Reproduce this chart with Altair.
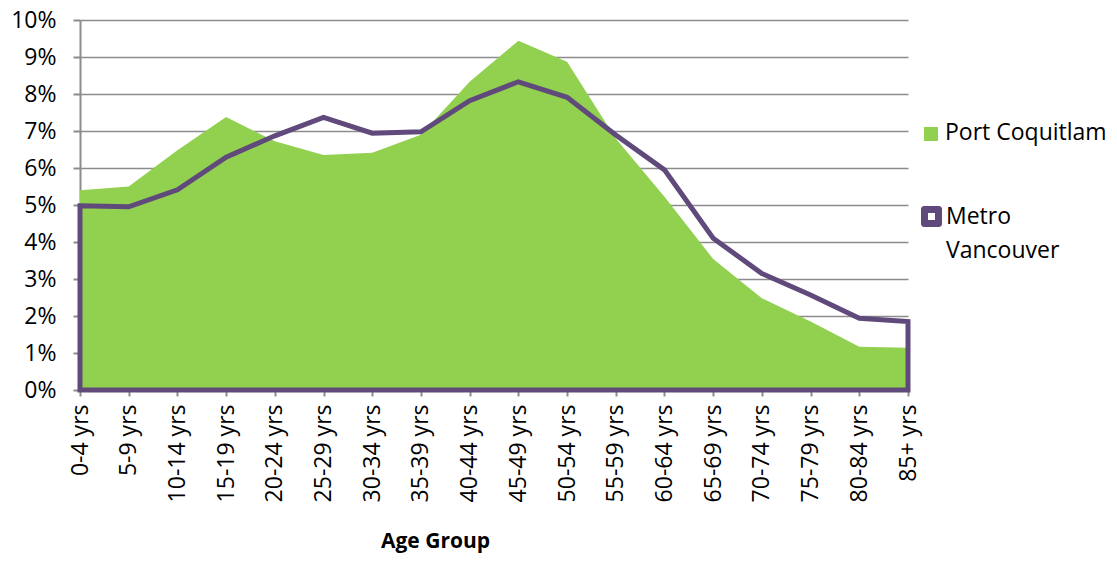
import altair as alt
import pandas as pd

categories = ["0-4 yrs", "5-9 yrs", "10-14 yrs", "15-19 yrs", "20-24 yrs", "25-29 yrs",
              "30-34 yrs", "35-39 yrs", "40-44 yrs", "45-49 yrs", "50-54 yrs", "55-59 yrs",
              "60-64 yrs", "65-69 yrs", "70-74 yrs", "75-79 yrs", "80-84 yrs", "85+ yrs"]
port_coquitlam = [5.40, 5.50, 6.48, 7.38, 6.72, 6.35, 6.41, 6.90, 8.33, 9.44, 8.87, 6.80,
                  5.22, 3.54, 2.48, 1.85, 1.17, 1.14]
metro_vancouver = [4.98, 4.95, 5.41, 6.29, 6.87, 7.37, 6.94, 6.98, 7.82, 8.33, 7.91, 6.89,
                   5.95, 4.10, 3.15, 2.57, 1.94, 1.85]
series_names = ["Port Coquitlam", "Metro Vancouver"]

GREEN = "#92D050"
PURPLE = "#604A7B"
GRAY = "#8C8C8C"
FONT = "Open Sans"
FS = 23

df_pc = pd.DataFrame({"age": categories, "share": [v / 100 for v in port_coquitlam]})
df_mv = pd.DataFrame({"age": categories, "share": [v / 100 for v in metro_vancouver]})

x_enc = alt.X(
    "age:N",
    sort=categories,
    scale=alt.Scale(type="point", padding=0),
    axis=alt.Axis(
        title="Age Group",
        labelAngle=270,
        labelFontSize=FS,
        labelFont=FONT,
        labelColor="black",
        labelPadding=8,
        tickSize=6,
        tickColor=GRAY,
        tickWidth=2,
        domainColor=GRAY,
        domainWidth=2,
        titleFont=FONT,
        titleFontSize=21,
        titleFontWeight="bold",
        titleColor="black",
        titleX=355,
        titleY=157,
        titleBaseline="alphabetic",
        titleAlign="center",
    ),
)
y_enc = alt.Y(
    "share:Q",
    scale=alt.Scale(domain=[0, 0.10], nice=False),
    axis=alt.Axis(
        title=None,
        format=".0%",
        values=[i / 100 for i in range(11)],
        labelFontSize=FS,
        labelFont=FONT,
        labelColor="black",
        labelPadding=17,
        tickSize=7,
        tickColor=GRAY,
        tickWidth=2,
        domainColor=GRAY,
        domainWidth=2,
        grid=True,
        gridColor=GRAY,
        gridWidth=1.7,
    ),
)

area_pc = alt.Chart(df_pc).mark_area(color=GREEN, opacity=1).encode(x=x_enc, y=y_enc)
area_mv = alt.Chart(df_mv).mark_area(
    fill="white", fillOpacity=0, stroke=PURPLE, strokeWidth=5, strokeJoin="miter"
).encode(x=x_enc, y=y_enc)

legend_df = pd.DataFrame({"k": [0]})
leg_base = alt.Chart(legend_df)
leg_green = leg_base.mark_rect(color=GREEN).encode(
    x=alt.value(844), x2=alt.value(858), y=alt.value(107), y2=alt.value(121)
)
leg_purple = leg_base.mark_rect(color=PURPLE, cornerRadius=3).encode(
    x=alt.value(841), x2=alt.value(862), y=alt.value(186), y2=alt.value(207)
)
leg_purple_in = leg_base.mark_rect(color="white").encode(
    x=alt.value(848), x2=alt.value(855), y=alt.value(193), y2=alt.value(200)
)
leg_text1 = leg_base.mark_text(
    text=series_names[0], align="left", baseline="middle", font=FONT, fontSize=FS, color="black"
).encode(x=alt.value(865), y=alt.value(113))
leg_text2 = leg_base.mark_text(
    text="Metro", align="left", baseline="middle", font=FONT, fontSize=FS, color="black"
).encode(x=alt.value(866), y=alt.value(197))
leg_text3 = leg_base.mark_text(
    text="Vancouver", align="left", baseline="middle", font=FONT, fontSize=FS, color="black"
).encode(x=alt.value(866), y=alt.value(231))

chart = alt.layer(
    area_pc, area_mv, leg_green, leg_purple, leg_purple_in, leg_text1, leg_text2, leg_text3
).properties(
    width=828,
    height=370,
    autosize=alt.AutoSizeParams(type="none"),
    padding={"left": 72, "top": 12, "right": 200, "bottom": 165},
).configure_view(strokeWidth=0)

chart.save("out.html", embed_options={"renderer": "svg", "actions": False})
